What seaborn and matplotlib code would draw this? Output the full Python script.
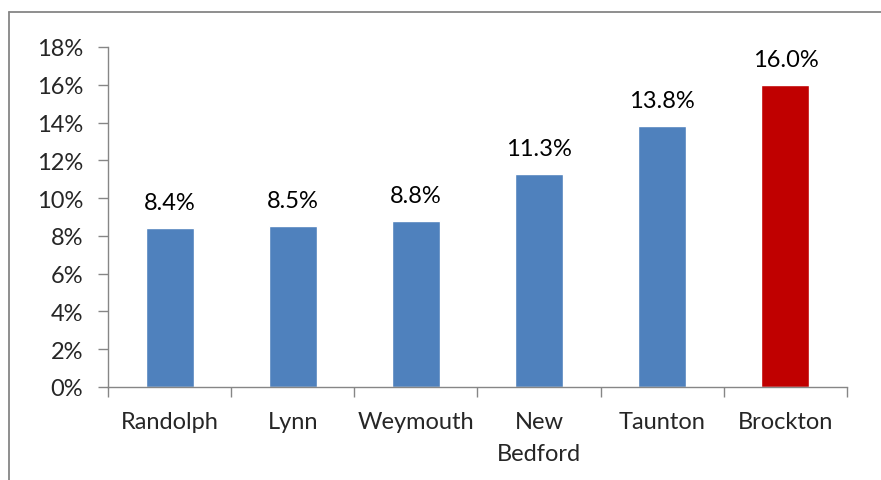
import matplotlib
matplotlib.use("Agg")
import matplotlib.pyplot as plt
import seaborn as sns
import pandas as pd
from matplotlib.lines import Line2D

cities = ["Randolph", "Lynn", "Weymouth", "New\nBedford", "Taunton", "Brockton"]
values = [8.4, 8.5, 8.8, 11.3, 13.8, 16.0]
highlight = ["no", "no", "no", "no", "no", "yes"]
yticks = [0, 2, 4, 6, 8, 10, 12, 14, 16, 18]

sns.set_theme(style="white")
plt.rcParams["font.family"] = ["Lato", "DejaVu Sans"]

df = pd.DataFrame({"city": cities, "value": values, "hl": highlight})

FS = 17

fig = plt.figure(figsize=(8.81, 4.81), dpi=100)
ax = fig.add_axes([108/881, 1-388/481, (847-108)/881, (388-48)/481])

sns.barplot(data=df, x="city", y="value", hue="hl", hue_order=["no", "yes"],
            palette={"no": "#4F81BD", "yes": "#C00000"}, dodge=False,
            width=0.39, legend=False, ax=ax, saturation=1)

for i, v in enumerate(values):
    ax.text(i, v + 1.35, f"{v:.1f}%", ha="center", va="center", fontsize=FS, color="#000000")

ax.set_ylim(0, 18)
ax.set_xlim(-0.5, len(cities) - 0.5)
ax.set_yticks(yticks)
ax.set_yticklabels([f"{t}%" for t in yticks], fontsize=FS)
ax.set_xticks(range(len(cities)))
ax.set_xticklabels(cities, fontsize=FS, linespacing=1.65)
ax.set_xlabel("")
ax.set_ylabel("")

for s in ["top", "right"]:
    ax.spines[s].set_visible(False)
for s in ["left", "bottom"]:
    ax.spines[s].set_color("#868686")
    ax.spines[s].set_linewidth(1.0)

ax.tick_params(axis="y", which="major", left=True, length=7, width=1, color="#868686",
               direction="out", pad=11)
ax.set_xticks([i - 0.5 for i in range(len(cities) + 1)], minor=True)
ax.tick_params(axis="x", which="major", bottom=False, length=0, pad=17)
ax.tick_params(axis="x", which="minor", bottom=True, length=7, width=1, color="#868686",
               direction="out")

# outer chart frame (partially cut off): left and top edges only
x0 = 8.5 / 881
y0 = 1 - 12.5 / 481
fig.add_artist(Line2D([x0, x0], [0, y0], transform=fig.transFigure, color="#868686", lw=1.3))
fig.add_artist(Line2D([x0, 1], [y0, y0], transform=fig.transFigure, color="#868686", lw=1.3))

fig.savefig("out.png", dpi=100)
